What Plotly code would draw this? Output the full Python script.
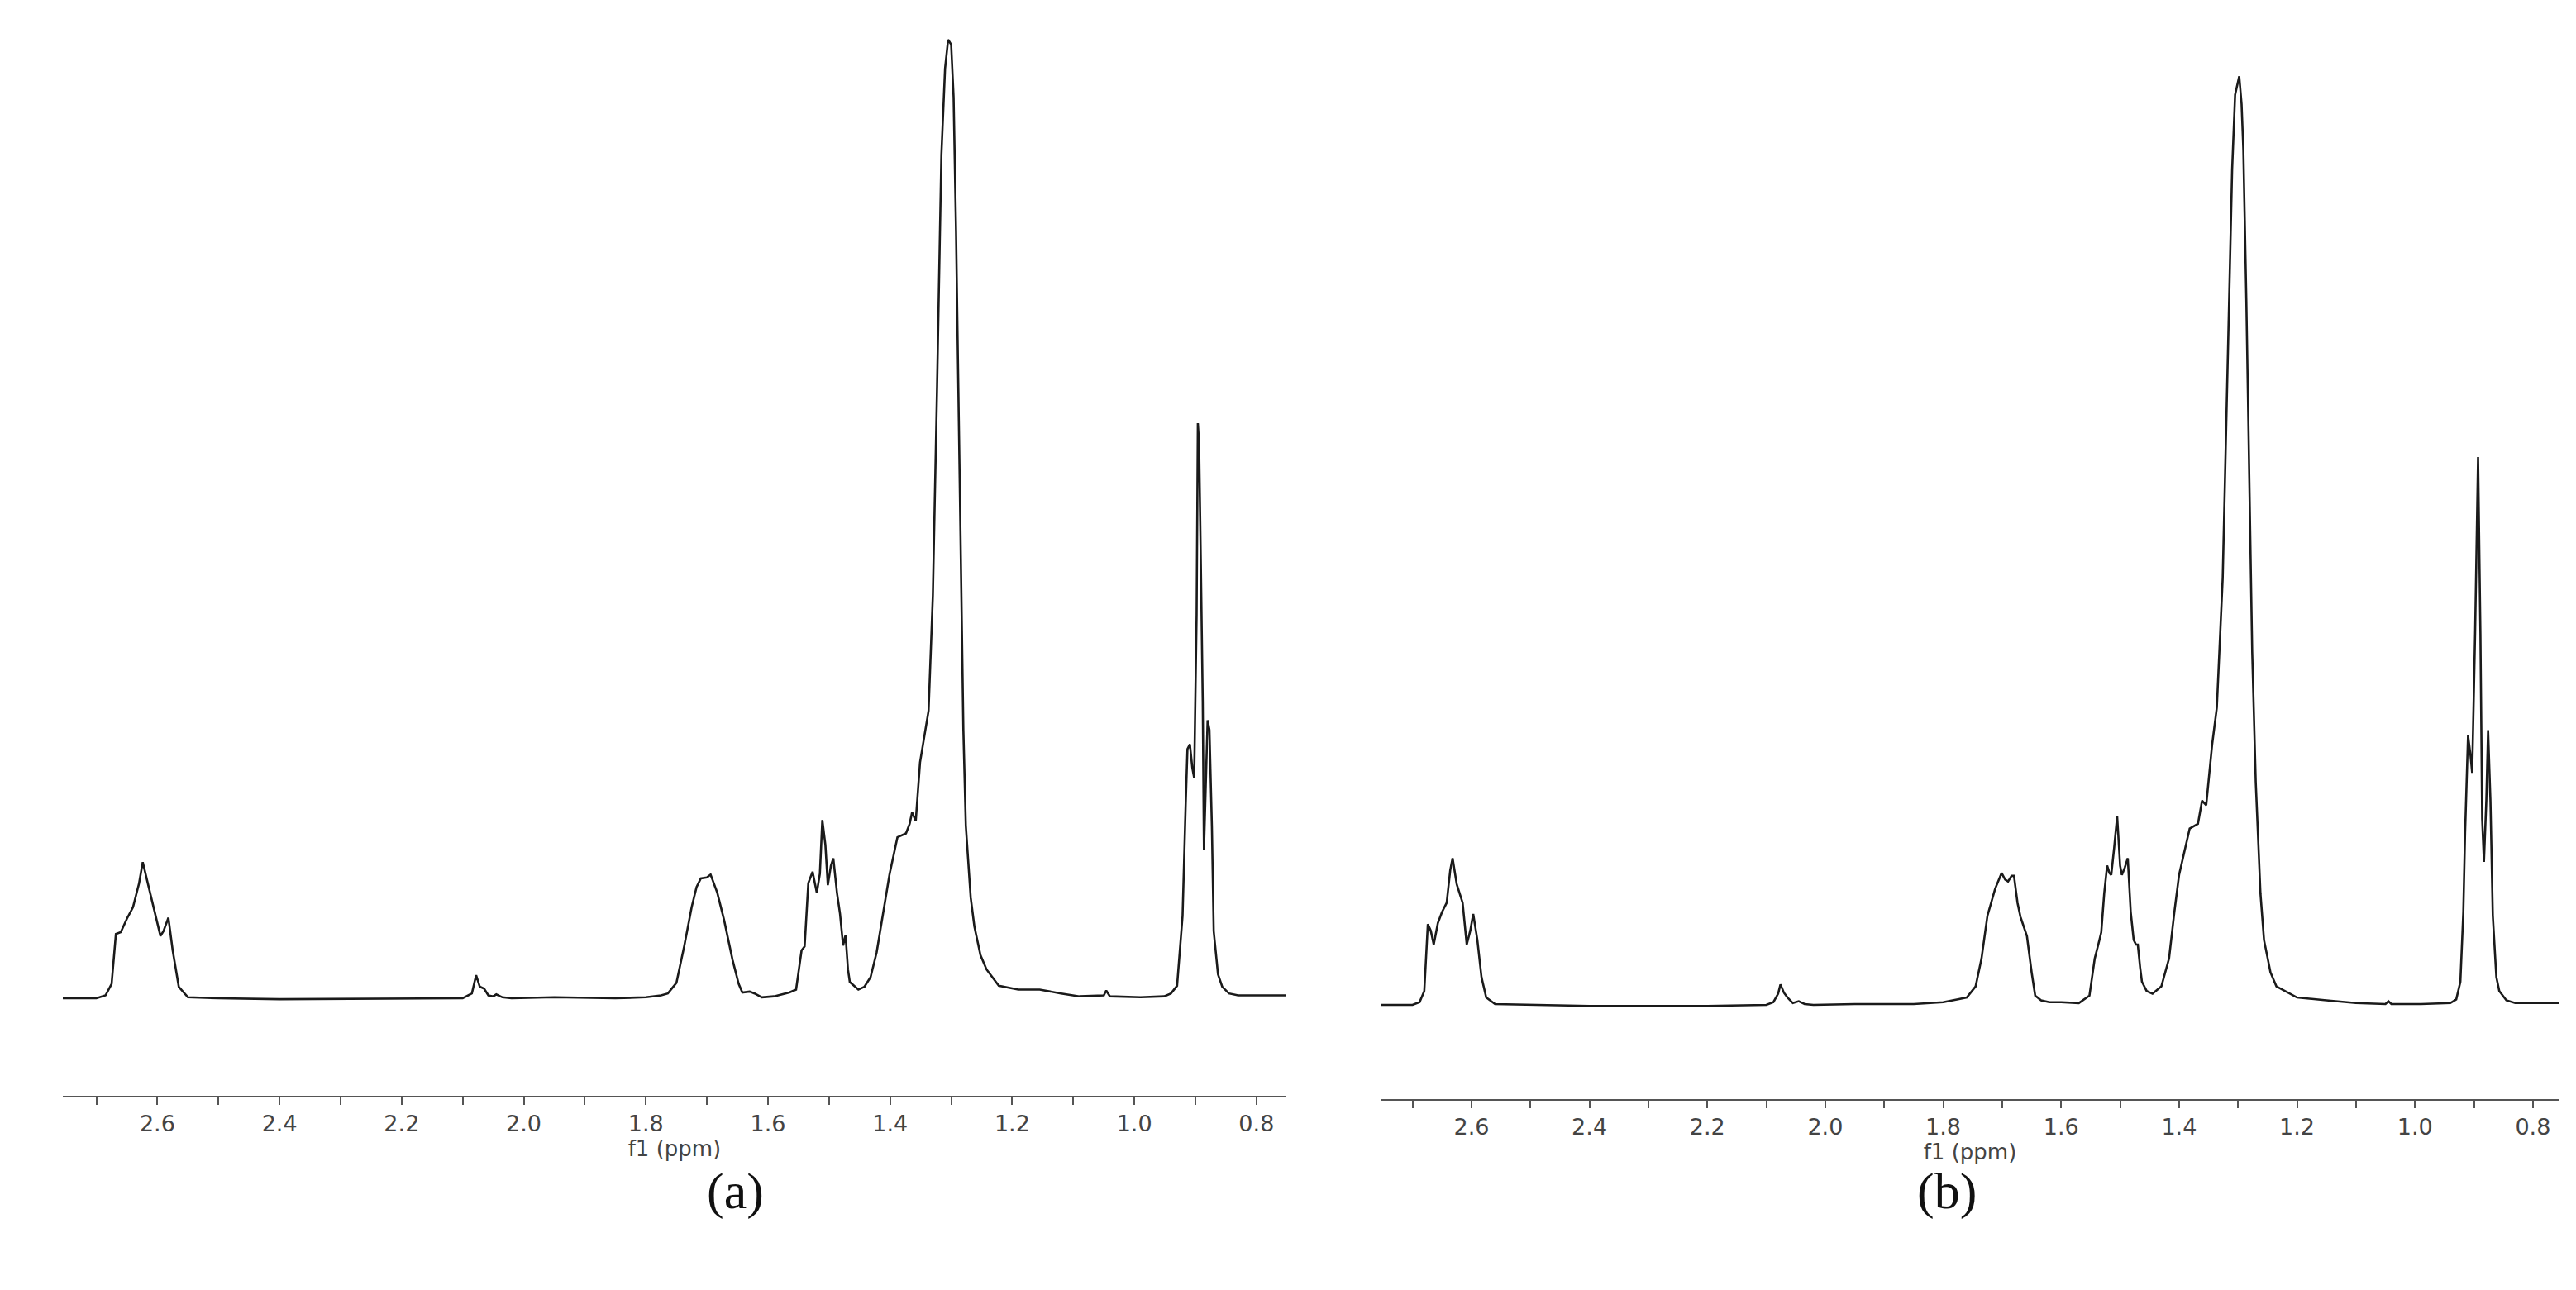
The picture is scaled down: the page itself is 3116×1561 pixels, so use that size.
import plotly.graph_objects as go

# Spectrum (a): chemical shift (ppm) and relative intensity (% of tallest peak)
ppm_a = [2.755, 2.70, 2.685, 2.675, 2.668, 2.660, 2.650, 2.640, 2.630, 2.624, 2.615, 2.605,
         2.595, 2.590, 2.582, 2.575, 2.565, 2.55, 2.50, 2.40, 2.20, 2.10, 2.085, 2.078,
         2.072, 2.065, 2.058, 2.05, 2.045, 2.035, 2.02, 1.95, 1.85, 1.80, 1.775, 1.764,
         1.75, 1.737, 1.725, 1.717, 1.710, 1.700, 1.694, 1.683, 1.672, 1.658, 1.648, 1.642,
         1.630, 1.622, 1.610, 1.590, 1.565, 1.554, 1.545, 1.540, 1.534, 1.527, 1.520, 1.515,
         1.511, 1.506, 1.502, 1.497, 1.493, 1.487, 1.482, 1.477, 1.473, 1.469, 1.466, 1.458,
         1.452, 1.442, 1.432, 1.422, 1.412, 1.401, 1.388, 1.374, 1.368, 1.364, 1.358, 1.351,
         1.337, 1.330, 1.323, 1.316, 1.310, 1.305, 1.300, 1.296, 1.292, 1.286, 1.280, 1.276,
         1.268, 1.262, 1.252, 1.242, 1.222, 1.190, 1.155, 1.120, 1.09, 1.050, 1.046, 1.040,
         0.990, 0.951, 0.940, 0.930, 0.921, 0.916, 0.913, 0.909, 0.905, 0.902, 0.898, 0.896,
         0.894, 0.891, 0.888, 0.886, 0.884, 0.880, 0.877, 0.873, 0.870, 0.863, 0.856, 0.845,
         0.830, 0.800, 0.750]
int_a = [0.0, 0.0, 0.3, 1.5, 6.7, 6.9, 8.3, 9.5, 12.0, 14.2, 11.8, 9.2,
         6.5, 7.0, 8.4, 5.0, 1.2, 0.1, 0.0, -0.1, 0.0, 0.0, 0.5, 2.4,
         1.2, 1.0, 0.3, 0.2, 0.4, 0.1, 0.0, 0.1, 0.0, 0.1, 0.3, 0.5,
         1.6, 5.5, 9.5, 11.6, 12.5, 12.6, 12.9, 11.0, 8.2, 4.0, 1.5, 0.6,
         0.7, 0.5, 0.1, 0.2, 0.6, 0.9, 5.0, 5.4, 12.0, 13.2, 11.0, 13.0,
         18.6, 16.0, 11.8, 13.8, 14.6, 11.0, 8.8, 5.5, 6.6, 3.0, 1.7, 1.2,
         0.9, 1.2, 2.2, 4.8, 8.6, 12.9, 16.8, 17.2, 18.2, 19.4, 18.5, 24.6,
         30.0, 42.0, 64.0, 88.0, 97.0, 100.0, 99.5, 94.0, 80.0, 52.0, 28.0, 18.0,
         10.5, 7.5, 4.5, 3.0, 1.3, 0.9, 0.9, 0.5, 0.2, 0.3, 0.8, 0.2,
         0.1, 0.2, 0.5, 1.3, 8.6, 20.0, 26.0, 26.5, 24.0, 23.0, 40.0, 60.0,
         58.0, 45.0, 31.0, 15.5, 20.0, 29.0, 28.0, 18.0, 7.0, 2.5, 1.2, 0.5,
         0.3, 0.3, 0.3]

# Spectrum (b)
ppm_b = [2.754, 2.70, 2.688, 2.680, 2.674, 2.669, 2.664, 2.657, 2.650, 2.642, 2.636, 2.632,
         2.625, 2.615, 2.608, 2.602, 2.597, 2.590, 2.583, 2.575, 2.560, 2.50, 2.40, 2.20,
         2.10, 2.088, 2.080, 2.076, 2.070, 2.064, 2.055, 2.045, 2.035, 2.02, 1.95, 1.85,
         1.80, 1.775, 1.760, 1.745, 1.735, 1.725, 1.712, 1.701, 1.695, 1.690, 1.684, 1.680,
         1.674, 1.669, 1.658, 1.650, 1.644, 1.634, 1.620, 1.600, 1.570, 1.552, 1.543, 1.537,
         1.532, 1.527, 1.522, 1.518, 1.515, 1.510, 1.505, 1.500, 1.497, 1.492, 1.487, 1.482,
         1.477, 1.473, 1.470, 1.466, 1.463, 1.455, 1.445, 1.430, 1.417, 1.408, 1.400, 1.382,
         1.368, 1.361, 1.354, 1.344, 1.336, 1.326, 1.316, 1.310, 1.305, 1.298, 1.294, 1.291,
         1.286, 1.281, 1.276, 1.270, 1.262, 1.256, 1.245, 1.235, 1.200, 1.15, 1.10, 1.050,
         1.045, 1.040, 0.990, 0.940, 0.930, 0.923, 0.918, 0.915, 0.910, 0.906, 0.903, 0.898,
         0.893, 0.889, 0.886, 0.883, 0.879, 0.876, 0.872, 0.868, 0.862, 0.857, 0.845, 0.830,
         0.800, 0.755]
int_b = [0.0, 0.0, 0.3, 1.5, 8.7, 8.0, 6.5, 8.8, 10.0, 11.0, 14.5, 15.8,
         13.0, 11.0, 6.5, 8.0, 9.8, 7.0, 3.0, 0.8, 0.1, 0.0, -0.1, -0.1,
         0.0, 0.3, 1.2, 2.2, 1.3, 0.8, 0.2, 0.4, 0.1, 0.0, 0.1, 0.1,
         0.3, 0.6, 0.8, 2.0, 5.0, 9.6, 12.5, 14.2, 13.5, 13.3, 13.9, 13.9,
         11.0, 9.5, 7.4, 3.5, 1.0, 0.5, 0.3, 0.3, 0.2, 1.0, 5.0, 6.5,
         7.8, 12.0, 15.0, 14.2, 14.0, 17.0, 20.3, 15.0, 14.0, 14.8, 15.8, 10.0,
         7.0, 6.5, 6.5, 4.0, 2.5, 1.5, 1.2, 2.0, 5.0, 10.0, 14.0, 19.0,
         19.5, 22.0, 21.5, 28.0, 32.0, 46.0, 74.0, 90.0, 98.0, 100.0, 97.0, 92.0,
         76.0, 58.0, 38.0, 24.0, 12.0, 7.0, 3.5, 2.0, 0.8, 0.5, 0.2, 0.1,
         0.4, 0.1, 0.1, 0.2, 0.6, 2.5, 10.0, 18.5, 29.0, 27.0, 25.0, 40.0,
         59.0, 40.0, 20.0, 15.4, 22.0, 29.6, 22.0, 9.6, 3.0, 1.5, 0.5, 0.2,
         0.2, 0.2]

tick_vals = [round(2.7 - 0.1 * i, 1) for i in range(20)]
tick_text = [f"{v:.1f}" if round(v * 10) % 2 == 0 else "" for v in tick_vals]

line_style = dict(color='#1a1a1a', width=2.6)

fig = go.Figure()
fig.add_trace(go.Scatter(x=ppm_a, y=int_a, mode='lines', line=line_style,
                         xaxis='x', yaxis='y', showlegend=False))
fig.add_trace(go.Scatter(x=ppm_b, y=int_b, mode='lines', line=line_style,
                         xaxis='x2', yaxis='y2', showlegend=False))

xaxis_common = dict(
    showgrid=False, zeroline=False, showline=True, linecolor='#555', linewidth=2,
    ticks='outside', ticklen=9, tickwidth=2, tickcolor='#555',
    tickvals=tick_vals, ticktext=tick_text,
    tickfont=dict(family='DejaVu Sans', size=27, color='#444'),
    title=dict(text='f1 (ppm)', font=dict(family='DejaVu Sans', size=26, color='#444'), standoff=2),
)
yaxis_common = dict(visible=False, showgrid=False, zeroline=False)

fig.update_layout(
    width=3116, height=1561,
    margin=dict(l=0, r=0, t=0, b=0),
    plot_bgcolor='white', paper_bgcolor='white',
    xaxis=dict(xaxis_common, domain=[0.0218, 0.4968], range=[2.755, 0.751], anchor='y'),
    yaxis=dict(yaxis_common, domain=[0.1557, 1.0], range=[-10.17, 103.45], anchor='x'),
    xaxis2=dict(xaxis_common, domain=[0.5334, 0.991], range=[2.754, 0.755], anchor='y2'),
    yaxis2=dict(yaxis_common, domain=[0.1531, 1.0], range=[-10.14, 107.5], anchor='x2'),
    annotations=[
        dict(text='(a)', x=0.2713, y=1 - 1470 / 1561, xref='paper', yref='paper',
             showarrow=False, font=dict(family='Liberation Serif', size=62, color='#111')),
        dict(text='(b)', x=0.7655, y=1 - 1470 / 1561, xref='paper', yref='paper',
             showarrow=False, font=dict(family='Liberation Serif', size=62, color='#111')),
    ],
)

fig.write_html('out.html')
